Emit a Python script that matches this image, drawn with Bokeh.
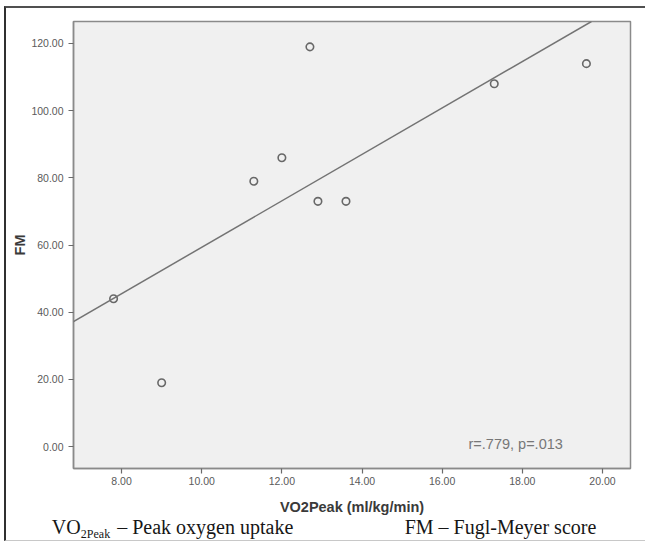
import numpy as np
from bokeh.plotting import figure
from bokeh.models import (ColumnDataSource, FixedTicker, NumeralTickFormatter,
                          Label, Slope, Range1d, LinearAxis, AllLabels)
from bokeh.embed import file_html
from bokeh.resources import INLINE

# ---- data ----
vo2peak = [7.8, 9.0, 11.3, 12.0, 12.7, 12.9, 13.6, 17.3, 19.6]
fm_score = [44, 19, 79, 86, 119, 73, 73, 108, 114]
x_ticks = [8, 10, 12, 14, 16, 18, 20]
y_ticks = [0, 20, 40, 60, 80, 100, 120]
x_title = "VO2Peak (ml/kg/min)"
y_title = "FM"
stat_text = "r=.779, p=.013"
# caption; the gap after "VO" leaves room for the subscript "2Peak"
caption_main = ["VO\u2003\u2002\u2005\u200a\u2013 Peak oxygen uptake", "FM \u2013 Fugl-Meyer score"]
caption_sub = ["2Peak"]

# ---- layout constants (page pixels) ----
OX, OY = 6, 8            # where the figure starts on the page (after css margin+border)
MW, MH = 641, 535        # figure size
FL, FR, FT, FB = 73, 630, 21, 468   # plot frame on the page
X0, X1 = 6.80, 20.70
Y0, Y1 = -6.55, 126.55
cap_main_centers = [172, 500]   # page-x centres of caption pieces
cap_sub_centers = [95]


def dx(px):
    return X0 + (px - FL) / (FR - FL) * (X1 - X0)


def dy(py):
    return Y0 + (FB - py) / (FB - FT) * (Y1 - Y0)


p = figure(width=MW, height=MH, output_backend="svg", toolbar_location=None,
           x_range=Range1d(X0, X1), y_range=Range1d(Y0, Y1),
           min_border_left=FL - OX, min_border_right=OX + MW - FR,
           min_border_top=FT - OY, min_border_bottom=OY + MH - FB,
           styles={"margin-top": "6px", "margin-left": "4px",
                   "border-top": "2px solid #505050",
                   "border-left": "2px solid #303030",
                   "border-bottom": "1px solid #c8c8c8"})
p.background_fill_color = "#f0f0f0"
p.border_fill_color = "white"
p.outline_line_color = "#8a8a8a"
p.outline_line_width = 1.5
p.grid.visible = False

for ax in (p.xaxis[0], p.yaxis[0]):
    ax.axis_line_color = "#8a8a8a"
    ax.axis_line_width = 1.5
    ax.major_tick_line_color = "#6a6a6a"
    ax.major_tick_line_width = 1.2
    ax.major_tick_in = 0
    ax.major_tick_out = 5
    ax.minor_tick_line_color = None
    ax.major_label_text_font = "Liberation Sans"
    ax.major_label_text_font_size = "10.5px"
    ax.major_label_text_color = "#5a5a5a"
    ax.axis_label_text_font = "Liberation Sans"
    ax.axis_label_text_font_style = "bold"
    ax.axis_label_text_color = "#3a3a3a"
    ax.axis_label_text_font_size = "14.5px"
    ax.formatter = NumeralTickFormatter(format="0.00")

p.xaxis[0].ticker = FixedTicker(ticks=x_ticks)
p.yaxis[0].ticker = FixedTicker(ticks=y_ticks)
p.xaxis[0].axis_label = x_title
p.yaxis[0].axis_label = y_title
p.xaxis[0].major_label_standoff = 3
p.yaxis[0].major_label_standoff = 5
p.xaxis[0].axis_label_standoff = 11
p.yaxis[0].axis_label_standoff = 0

# regression line (least squares on the data)
m, b = np.polyfit(np.array(vo2peak), np.array(fm_score), 1)
p.add_layout(Slope(gradient=m, y_intercept=b, line_color="#737373", line_width=1.5))

src = ColumnDataSource(dict(x=vo2peak, y=fm_score))
p.scatter("x", "y", source=src, marker="circle", size=7.5, fill_color=None,
          line_color="#686868", line_width=1.6)

p.add_layout(Label(x=dx(468), y=dy(443), text=stat_text, text_font="Liberation Sans",
                   text_font_size="14.5px", text_color="#777777",
                   text_baseline="middle", text_align="left"))

# ---- caption under the chart: two tick-label-only axes in page-x coordinates ----
p.extra_x_ranges = {"cap": Range1d(FL, FR)}


def caption_axis(centers, texts, size, standoff):
    a = LinearAxis(x_range_name="cap",
                   ticker=FixedTicker(ticks=centers, minor_ticks=[]),
                   major_label_overrides={c: t for c, t in zip(centers, texts)},
                   major_label_policy=AllLabels())
    a.axis_line_color = None
    a.major_tick_line_color = None
    a.minor_tick_line_color = None
    a.major_tick_in = 0
    a.major_tick_out = 0
    a.minor_tick_out = 0
    a.major_label_standoff = standoff
    a.major_label_text_font = "Liberation Serif"
    a.major_label_text_font_size = size
    a.major_label_text_color = "#161616"
    return a


p.add_layout(caption_axis(cap_main_centers, caption_main, "20px", -2), "below")
p.add_layout(caption_axis(cap_sub_centers, caption_sub, "12px", -14), "below")

open("out.html", "w").write(file_html(p, INLINE))
